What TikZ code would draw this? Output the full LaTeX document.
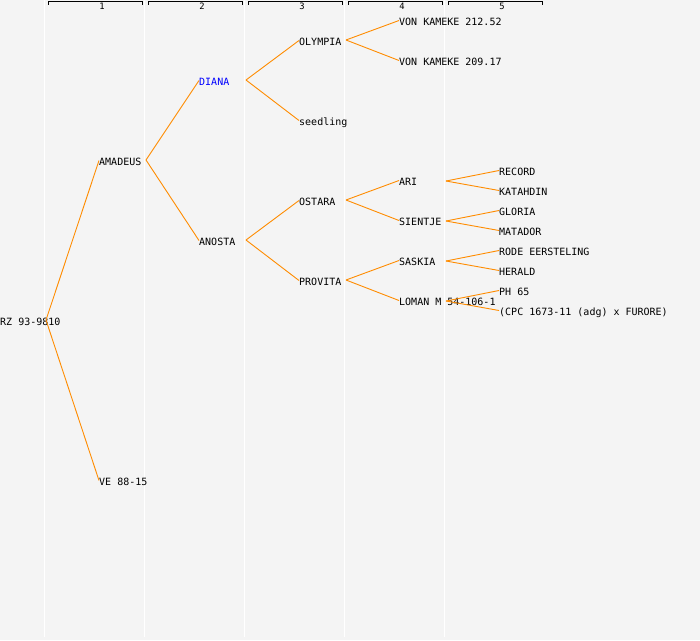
\documentclass[tikz,border=0pt]{standalone}
\usepackage{fontspec}
\newfontfamily\pedmono{DejaVu Sans Mono}
\definecolor{bgc}{HTML}{F4F4F4}
\definecolor{linkc}{HTML}{FF8C00}
\definecolor{dianac}{HTML}{0000FF}
\begin{document}
\begin{tikzpicture}[x=1pt,y=-1pt,
  lbl/.style={anchor=west,inner sep=0pt,font=\pedmono\fontsize{10}{10}\selectfont,text height=7.3pt,text depth=0pt},
  hdr/.style={inner sep=0pt,font=\pedmono\fontsize{8.8}{8.8}\selectfont},
  link/.style={draw=linkc,line width=0.9pt},
  colline/.style={draw=white,line width=1.5pt},
  brk/.style={draw=black,line width=1pt}]
\useasboundingbox (0,0) rectangle (700,640);
\fill[bgc] (0,0) rectangle (700,640);
% column lines
\foreach \cx in {44.5,144.5,244.5,344.5,444.5}{\draw[colline] (\cx,0) -- (\cx,637);}
% headers
\foreach \i/\a/\b/\m in {1/48/142/102,2/148/242/202,3/248/342/302,4/348/442/402,5/448/542/502}{
  \draw[brk] (\a,4.5) -- (\a,1.5) -- (\b,1.5) -- (\b,4.5);
  \node[hdr] (h\i) at (\m,6.5) {\i};
}
% nodes
\node[lbl] (rz) at (0,322) {RZ 93-9810};
\node[lbl] (ama) at (99,162) {AMADEUS};
\node[lbl] (ve) at (99,482) {VE 88-15};
\node[lbl,text=dianac] (dia) at (199,82) {DIANA};
\node[lbl] (ano) at (199,242) {ANOSTA};
\node[lbl] (oly) at (299,42) {OLYMPIA};
\node[lbl] (see) at (299,122) {seedling};
\node[lbl] (ost) at (299,202) {OSTARA};
\node[lbl] (pro) at (299,282) {PROVITA};
\node[lbl] (vk1) at (399,22) {VON KAMEKE 212.52};
\node[lbl] (vk2) at (399,62) {VON KAMEKE 209.17};
\node[lbl] (ari) at (399,182) {ARI};
\node[lbl] (sie) at (399,222) {SIENTJE};
\node[lbl] (sas) at (399,262) {SASKIA};
\node[lbl] (lom) at (399,302) {LOMAN M 54-106-1};
\node[lbl] (rec) at (499,172) {RECORD};
\node[lbl] (kat) at (499,192) {KATAHDIN};
\node[lbl] (glo) at (499,212) {GLORIA};
\node[lbl] (mat) at (499,232) {MATADOR};
\node[lbl] (rod) at (499,252) {RODE EERSTELING};
\node[lbl] (her) at (499,272) {HERALD};
\node[lbl] (ph) at (499,292) {PH 65};
\node[lbl] (cpc) at (499,312) {(CPC 1673-11 (adg) x FURORE)};
% connector origins
\coordinate (rz-o) at (46,320);
\coordinate (ama-o) at (146,160);
\coordinate (dia-o) at (246,80);
\coordinate (ano-o) at (246,240);
\coordinate (oly-o) at (346,40);
\coordinate (ost-o) at (346,200);
\coordinate (pro-o) at (346,280);
\coordinate (ari-o) at (446,181);
\coordinate (sie-o) at (446,221);
\coordinate (sas-o) at (446,261);
\coordinate (lom-o) at (446,301);
% connectors
\foreach \p/\c in {rz/ama,rz/ve,ama/dia,ama/ano,dia/oly,dia/see,ano/ost,ano/pro,
  oly/vk1,oly/vk2,ost/ari,ost/sie,pro/sas,pro/lom,ari/rec,ari/kat,sie/glo,sie/mat,
  sas/rod,sas/her,lom/ph,lom/cpc}{
  \draw[link] (\p-o) -- ([yshift=1.5pt]\c.west);
}
\end{tikzpicture}
\end{document}
